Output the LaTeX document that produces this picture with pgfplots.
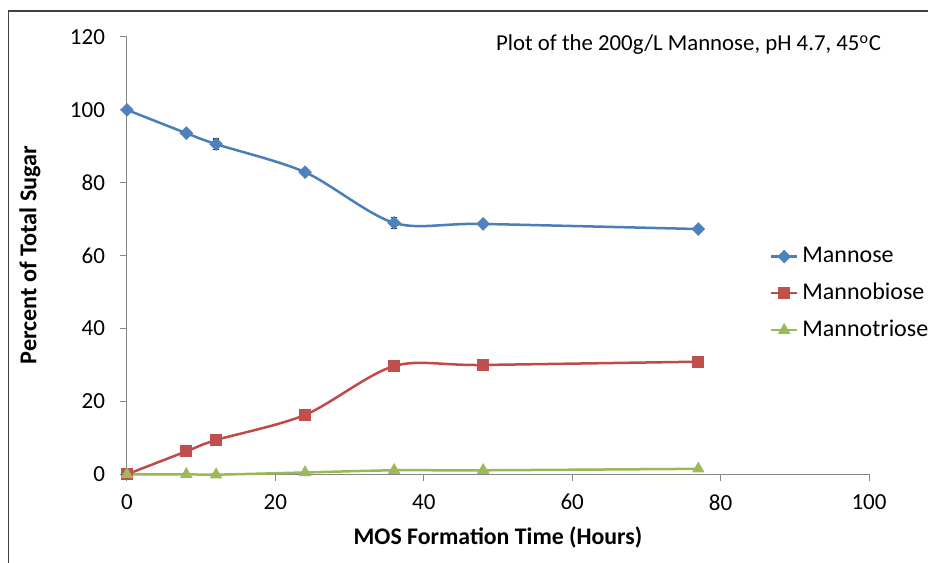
\documentclass[border=0pt]{standalone}
\usepackage{fontspec}
\setmainfont{Carlito}
\usepackage{pgfplots}
\pgfplotsset{compat=1.18}

\definecolor{blueline}{HTML}{4A7EBB}
\definecolor{bluemark}{HTML}{4F81BD}
\definecolor{redline}{HTML}{BE4B48}
\definecolor{redmark}{HTML}{C0504D}
\definecolor{greenline}{HTML}{98B954}
\definecolor{greenmark}{HTML}{9BBB59}
\definecolor{axisgray}{HTML}{868686}
\definecolor{framegray}{HTML}{404040}

\begin{document}
\begin{tikzpicture}
\useasboundingbox (0,0) rectangle (464pt,281.5pt);
% chart frame
\draw[framegray, line width=0.7pt] (464pt,276pt) -- (4.2pt,276pt) -- (4.2pt,0pt);

\begin{axis}[
  at={(63.5pt,44.35pt)}, anchor=south west,
  scale only axis, width=371pt, height=218.65pt,
  xmin=0, xmax=100, ymin=0, ymax=120,
  xtick={0,20,...,100}, ytick={0,20,...,120},
  axis x line*=bottom, axis y line*=left,
  axis line style={axisgray, line width=0.5pt, -},
  tick style={axisgray, line width=0.5pt},
  tick align=outside, major tick length=3.5pt,
  /pgf/number format/assume math mode=true,
  ticklabel style={font=\fontsize{11.5}{13}\selectfont, text=black},
  yticklabel style={xshift=-4pt},
  xticklabel style={yshift=-3pt},
  clip=false,
  every axis plot/.append style={smooth, tension=0.5, line width=1.25pt},
  legend style={draw=none, fill=none, at={(0.866,0.413)}, anchor=west,
    font=\fontsize{12}{14}\selectfont, row sep=4.75pt, inner sep=0pt,
    legend cell align=left},
  legend image code/.code={%
    \draw[mark repeat=2, mark phase=2] plot coordinates {(0pt,0pt) (6.5pt,0pt) (13pt,0pt)};},
  error bars/error bar style={black!85, line width=0.7pt},
  error bars/error mark options={black!85, mark size=1.6pt, line width=0.7pt, rotate=90},
]
% Mannose
\addplot[blueline, mark=square*, mark options={fill=bluemark, draw=bluemark, rotate=45, mark size=1.8pt},
  error bars/.cd, y dir=both, y explicit]
  coordinates {(0,100) +- (0,0) (8,93.6) +- (0,0) (12,90.6) +- (0,1.4) (24,82.9) +- (0,0.9)
               (36,69.0) +- (0,1.5) (48,68.7) +- (0,0) (77,67.3) +- (0,0)};
\addlegendentry{Mannose}
% Mannobiose
\addplot[redline, mark=square*, mark options={fill=redmark, draw=redmark, mark size=2.4pt},
  error bars/.cd, y dir=both, y explicit]
  coordinates {(0,0) +- (0,0) (8,6.3) +- (0,0) (12,9.4) +- (0,0.8) (24,16.3) +- (0,0)
               (36,29.7) +- (0,0.8) (48,30.0) +- (0,0) (77,30.9) +- (0,0)};
\addlegendentry{Mannobiose}
% Mannotriose
\addplot[greenline, mark=triangle*, mark options={fill=greenmark, draw=greenmark, mark size=2.4pt}]
  coordinates {(0,0) (8,0.0) (12,-0.1) (24,0.5) (36,1.1) (48,1.1) (77,1.5)};
\addlegendentry{Mannotriose}
\end{axis}

\node[anchor=west, font=\fontsize{11.4}{13}\selectfont] at (244.5pt,259pt)
  {Plot of the 200g/L Mannose, pH 4.7, 45\textsuperscript{o}C};
\node[font=\bfseries\fontsize{11.9}{14}\selectfont] at (249pt,13pt) {MOS Formation Time (Hours)};
\node[rotate=90, font=\bfseries\fontsize{12.1}{14}\selectfont] at (15pt,154pt) {Percent of Total Sugar};
\end{tikzpicture}
\end{document}
